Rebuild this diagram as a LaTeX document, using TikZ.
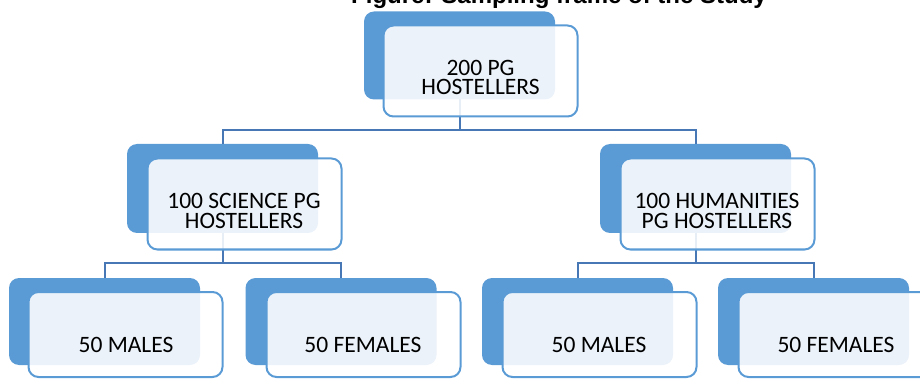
\documentclass[tikz,border=0pt]{standalone}
\usepackage{fontspec}
\setmainfont{Carlito}
\newfontfamily\titlefont{Liberation Sans}
\definecolor{boxblue}{HTML}{5B9BD5}
\definecolor{linkblue}{HTML}{4778B5}
\begin{document}
\begin{tikzpicture}[x=1pt,y=-1pt,
  backbox/.style={fill=boxblue,rounded corners=10pt,inner sep=0pt,outer sep=0pt,minimum width=191pt,minimum height=88pt},
  frontbox/.style={draw=boxblue,line width=2pt,fill=white,fill opacity=0.88,rounded corners=10pt,inner sep=0pt,outer sep=0pt,minimum width=194pt,minimum height=91pt},
  lowfront/.style={frontbox,minimum height=85pt},
  conn/.style={draw=linkblue,line width=2pt},
  lbl/.style={align=center,font=\fontsize{23.5pt}{19.5pt}\selectfont,text=black,inner sep=0pt}]
\useasboundingbox (0,0) rectangle (920,379);
\begin{scope}
\clip (0,0) rectangle (920,379);
% title
\node[anchor=base,font=\titlefont\bfseries\fontsize{24pt}{28pt}\selectfont,inner sep=0pt] (title) at (559,4) {Figure: Sampling frame of the Study};
% back boxes
\node[backbox] (b1) at (459.5,55.5) {};
\node[backbox,minimum height=89pt] (b2) at (222.5,188.5) {};
\node[backbox,minimum height=89pt] (b3) at (695.5,188.5) {};
\node[backbox,minimum height=87pt] (b4) at (104.5,321.5) {};
\node[backbox,minimum height=87pt] (b5) at (341,321.5) {};
\node[backbox,minimum height=87pt] (b6) at (577.5,321.5) {};
\node[backbox,minimum height=87pt] (b7) at (813.5,321.5) {};
% connectors
\draw[conn] (b1.south) -- ++(0,31) coordinate (j1) -| (b2.north);
\draw[conn] (j1) -| (b3.north);
\draw[conn] (b2.south) -- ++(0,30) coordinate (j2) -| (b4.north);
\draw[conn] (j2) -| (b5.north);
\draw[conn] (b3.south) -- ++(0,30) coordinate (j3) -| (b6.north);
\draw[conn] (j3) -| (b7.north);
% front boxes
\node[frontbox] (f1) at (480.5,71) {};
\node[frontbox] (f2) at (244.5,204) {};
\node[frontbox] (f3) at (717.5,204) {};
\node[lowfront] (f4) at (125.5,334.5) {};
\node[lowfront] (f5) at (363.5,334.5) {};
\node[lowfront] (f6) at (599.5,334.5) {};
\node[lowfront] (f7) at (835.5,334.5) {};
% labels
\node[lbl] (t1) at (480.5,77.5) {200 PG\\HOSTELLERS};
\node[lbl] (t2) at (244,211) {100 SCIENCE PG\\HOSTELLERS};
\node[lbl] (t3) at (717,211) {100 HUMANITIES\\PG HOSTELLERS};
\node[lbl] (t4) at (126,345) {50 MALES};
\node[lbl] (t5) at (363,345) {50 FEMALES};
\node[lbl] (t6) at (599,345) {50 MALES};
\node[lbl] (t7) at (836,345) {50 FEMALES};
\end{scope}
\end{tikzpicture}
\end{document}
